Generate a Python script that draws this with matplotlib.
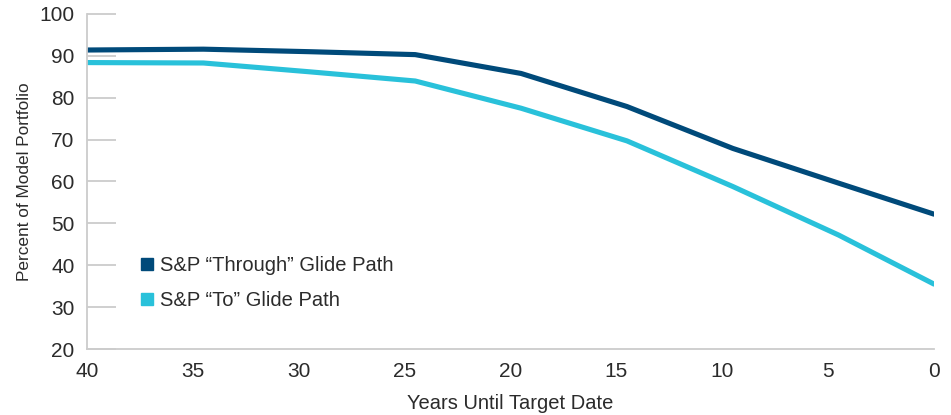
import matplotlib
matplotlib.use("Agg")
import matplotlib.pyplot as plt
from matplotlib.lines import Line2D

plt.rcParams['font.family'] = ['Liberation Sans', 'DejaVu Sans']

# years until target date (points sit slightly before the 5-year ticks)
years = [40, 34.5, 29.5, 24.5, 19.5, 14.5, 9.5, 4.5, 0]
through_path = [91.4, 91.6, 91.0, 90.3, 85.8, 77.9, 67.9, 59.6, 52.2]
to_path = [88.4, 88.3, 86.2, 84.0, 77.5, 69.7, 58.8, 47.2, 35.5]

series_names = ['S&P \u201cThrough\u201d Glide Path', 'S&P \u201cTo\u201d Glide Path']
colors = ['#004a7a', '#29c1da']
x_ticks = [40, 35, 30, 25, 20, 15, 10, 5, 0]
y_ticks = [20, 30, 40, 50, 60, 70, 80, 90, 100]

text_col = '#2b2b2b'
grid_col = '#cccccc'

fig = plt.figure(figsize=(9.51, 4.15), dpi=100)
ax = fig.add_axes([87 / 951, 1 - 349 / 415, (934 - 87) / 951, (349 - 14) / 415])

ax.plot(years, through_path, color=colors[0], lw=3.7, solid_capstyle='round', solid_joinstyle='round')
ax.plot(years, to_path, color=colors[1], lw=3.7, solid_capstyle='round', solid_joinstyle='round')

ax.set_xlim(40, 0)
ax.set_ylim(20, 100)
ax.set_xticks(x_ticks)
ax.set_yticks(y_ticks)

for side in ['top', 'right']:
    ax.spines[side].set_visible(False)
for side in ['left', 'bottom']:
    ax.spines[side].set_color(grid_col)
    ax.spines[side].set_linewidth(1.3)

ax.tick_params(axis='y', direction='in', length=21, width=1.3, color=grid_col,
               labelsize=15, labelcolor=text_col, pad=9)
ax.tick_params(axis='x', length=0, labelsize=15, labelcolor=text_col, pad=9)

ax.set_xlabel('Years Until Target Date', fontsize=14.5, color=text_col, labelpad=10)
ax.set_ylabel('Percent of Model Portfolio', fontsize=12.4, color=text_col, labelpad=5)

handles = [Line2D([], [], ls='none', marker='s', markersize=8, color=c) for c in colors]
ax.legend(handles, series_names, loc='center left', bbox_to_anchor=(0.050, 0.197),
          frameon=False, fontsize=14.5, handlelength=0.8, handletextpad=0.22,
          labelspacing=0.8, borderpad=0, labelcolor=text_col)

fig.savefig('out.png', dpi=100)
